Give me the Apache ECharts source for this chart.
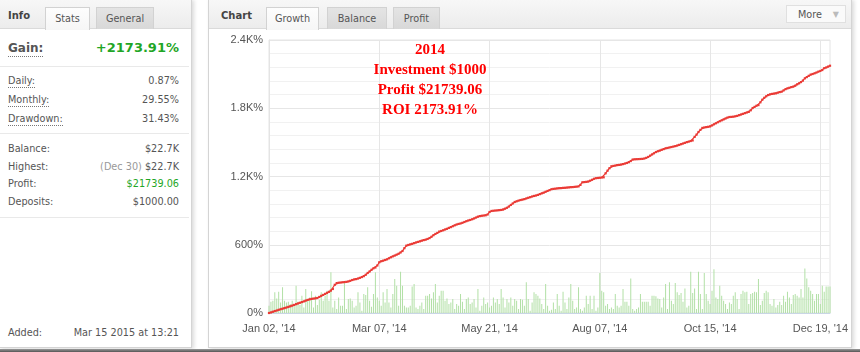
<!DOCTYPE html>
<html>
<head>
<meta charset="utf-8">
<script src="https://cdn.jsdelivr.net/npm/echarts@6/dist/echarts.min.js"></script>
<style>
  body { margin: 0; width: 860px; height: 352px; overflow: hidden; background: #fff; position: relative;
         font-family: "DejaVu Sans", Verdana, sans-serif; font-size: 9.7px; color: #555; }
  .panel { position: absolute; top: -1px; height: 349px; background: #fff; border: 1px solid #d4d4d4;
           box-sizing: border-box; box-shadow: 2px 1px 4px rgba(0,0,0,.15); }
  #info { left: -1px; width: 193px; }
  #chartBox { left: 208px; width: 644px; }
  .head { position: absolute; left: 0; top: 0; right: 0; height: 29px; background: linear-gradient(#f7f7f7, #ececec);
          border-bottom: 1px solid #dadada; box-sizing: border-box; }
  .head b { position: absolute; top: 10px; font-size: 10px; color: #444; }
  .tab { position: absolute; top: 7px; height: 22px; line-height: 21px; text-align: center; box-sizing: border-box;
         border: 1px solid #d2d2d2; border-bottom: none; color: #555; }
  .tab.on { background: linear-gradient(#fdfdfd, #f6f6f6); height: 23px; }
  .tab.off { background: linear-gradient(#e4e4e4, #d8d8d8); }
  .more { position: absolute; right: 5px; top: 5px; width: 60px; height: 18px; line-height: 17px; background: #fafafa;
          border: 1px solid #e0e0e0; box-sizing: border-box; color: #555; padding-left: 11px; }
  .more span { position: absolute; right: 6px; top: 0; color: #bbb; font-size: 8px; }
  .row { position: absolute; left: 8px; width: 171px; height: 14px; line-height: 14px; }
  .row .k { position: absolute; left: 0; top: 0; }
  .row .k.u { border-bottom: 1px dotted #777; line-height: 13px; }
  .row .v { position: absolute; right: 0; top: 0; color: #555; }
  .sep { position: absolute; left: 0; width: 189px; height: 1px; background: #e9e9e9; }
  .green { color: #1fa626 !important; }
  #chart { position: absolute; left: 209px; top: 29px; width: 642px; height: 320px; }
  #bottom { position: absolute; left: 0; top: 349px; width: 860px; height: 3px; background: linear-gradient(#9a9a9a, #555); }
</style>
</head>
<body>
<div id="info" class="panel">
  <div class="head">
    <b style="left:8px">Info</b>
    <div class="tab on" style="left:45px;width:45px">Stats</div>
    <div class="tab off" style="left:96px;width:58px">General</div>
  </div>
  <div class="row" style="top:40px;height:18px">
    <span class="k u" style="font-size:12px;font-weight:bold;line-height:16px;color:#555">Gain:</span>
    <span class="v green" style="font-size:13px;font-weight:bold;line-height:16px">+2173.91%</span>
  </div>
  <div class="sep" style="top:66px"></div>
  <div class="row" style="top:74px"><span class="k u">Daily:</span><span class="v">0.87%</span></div>
  <div class="row" style="top:93px"><span class="k u">Monthly:</span><span class="v">29.55%</span></div>
  <div class="row" style="top:112px"><span class="k u">Drawdown:</span><span class="v">31.43%</span></div>
  <div class="sep" style="top:133px"></div>
  <div class="row" style="top:142px"><span class="k">Balance:</span><span class="v">$22.7K</span></div>
  <div class="row" style="top:160px"><span class="k">Highest:</span><span class="v"><span style="color:#999">(Dec 30)</span> $22.7K</span></div>
  <div class="row" style="top:177px"><span class="k">Profit:</span><span class="v green">$21739.06</span></div>
  <div class="row" style="top:195px"><span class="k">Deposits:</span><span class="v">$1000.00</span></div>
  <div class="sep" style="top:217px"></div>
  <div class="row" style="top:326px"><span class="k">Added:</span><span class="v">Mar 15 2015 at 13:21</span></div>
</div>

<div id="chartBox" class="panel">
  <div class="head">
    <b style="left:12px">Chart</b>
    <div class="tab on" style="left:57px;width:53px">Growth</div>
    <div class="tab off" style="left:118px;width:60px">Balance</div>
    <div class="tab off" style="left:184px;width:47px">Profit</div>
    <div class="more">More<span>&#9660;</span></div>
  </div>
</div>
<div id="chart"></div>
<div id="bottom"></div>

<script>
// x tick labels, shown every 57 trading days
const xLabels = ["Jan 02, '14", "Mar 07, '14", "May 21, '14", "Aug 07, '14", "Oct 15, '14", "Dec 19, '14"];
const yLabels = ['0%', '600%', '1.2K%', '1.8K%', '2.4K%'];
const note = ['2014', 'Investment $1000', 'Profit $21739.06', 'ROI 2173.91%'];

// cumulative growth, %
const growth = [
  0, 5, 11, 17, 22, 28, 33, 38, 43, 48,
  54, 59, 65, 71, 78, 84, 90, 96, 102, 109,
  115, 120, 124, 127, 129, 132, 141, 151, 159, 168,
  177, 186, 197, 211, 248, 263, 266, 268, 270, 272,
  274, 277, 283, 290, 295, 298, 303, 309, 316, 324,
  336, 352, 365, 380, 393, 400, 418, 446, 455, 460,
  466, 472, 481, 490, 498, 505, 513, 521, 532, 545,
  570, 592, 598, 603, 608, 614, 620, 625, 630, 636,
  641, 645, 651, 659, 670, 684, 695, 704, 716, 721,
  727, 734, 740, 748, 755, 763, 771, 778, 783, 787,
  793, 800, 807, 813, 818, 824, 831, 839, 847, 852,
  855, 857, 859, 866, 888, 897, 899, 901, 902, 904,
  906, 909, 917, 925, 936, 950, 963, 976, 982, 988,
  993, 997, 1001, 1007, 1013, 1018, 1024, 1029, 1033, 1038,
  1045, 1052, 1058, 1066, 1073, 1080, 1088, 1091, 1093, 1095,
  1097, 1098, 1100, 1101, 1103, 1104, 1106, 1107, 1109, 1111,
  1113, 1126, 1149, 1151, 1153, 1155, 1163, 1171, 1180, 1185,
  1187, 1189, 1191, 1193, 1228, 1251, 1273, 1290, 1293, 1296,
  1300, 1302, 1305, 1309, 1314, 1319, 1326, 1336, 1349, 1351,
  1352, 1353, 1354, 1355, 1358, 1364, 1372, 1383, 1394, 1404,
  1415, 1422, 1428, 1435, 1441, 1448, 1451, 1455, 1459, 1463,
  1467, 1472, 1478, 1484, 1490, 1496, 1502, 1507, 1512, 1517,
  1548, 1568, 1591, 1610, 1627, 1631, 1634, 1637, 1640, 1649,
  1659, 1668, 1677, 1686, 1694, 1702, 1710, 1718, 1723, 1724,
  1726, 1729, 1733, 1739, 1745, 1751, 1757, 1763, 1768, 1782,
  1802, 1812, 1822, 1828, 1852, 1875, 1892, 1905, 1916, 1922,
  1926, 1929, 1931, 1937, 1942, 1946, 1957, 1968, 1975, 1980,
  1986, 1990, 1998, 2010, 2019, 2030, 2043, 2063, 2074, 2085,
  2096, 2101, 2107, 2114, 2122, 2128, 2136, 2152, 2158, 2166,
  2173.91
];

// daily gain, %
const daily = [
  0.48, 0.75, 0.81, 1.36, 0.96, 1.40, 0.70, 1.69, 0.81, 0.70,
  0.75, 0.59, 0.81, 0.48, 1.80, 0.75, 0.53, 1.14, 0.37, 1.58,
  0.81, 1.03, 1.43, 0.37, 1.14, 0.53, 0.88, 1.36, 0.81, 1.14,
  1.47, 0.81, 2.68, 0.37, 0.81, 0.26, 1.03, 0.48, 0.48, 2.02,
  0.26, 0.92, 0.96, 0.81, 0.37, 0.48, 1.36, 0.70, 0.15, 1.25,
  1.18, 1.69, 0.81, 0.42, 1.25, 2.68, 1.03, 0.81, 0.48, 1.36,
  0.70, 1.58, 0.70, 0.37, 1.25, 2.24, 1.80, 0.48, 2.72, 1.80,
  0.48, 0.37, 0.37, 0.48, 1.75, 1.91, 0.37, 0.26, 0.48, 0.70,
  0.26, 1.14, 1.14, 1.25, 0.96, 1.36, 1.91, 0.70, 1.14, 1.47,
  1.47, 0.81, 0.96, 0.59, 0.70, 0.92, 0.26, 0.59, 0.48, 1.25,
  0.75, 0.26, 0.92, 1.03, 0.59, 0.70, 0.92, 0.37, 1.58, 0.15,
  0.48, 1.03, 0.59, 0.70, 0.37, 0.48, 1.03, 0.70, 0.92, 0.59,
  1.58, 1.03, 0.37, 0.92, 0.70, 1.03, 0.48, 0.92, 0.81, 0.26,
  0.92, 0.88, 0.48, 2.02, 0.92, 0.15, 0.70, 1.36, 1.25, 1.14,
  0.96, 0.59, 0.26, 1.91, 0.48, 0.15, 0.22, 0.70, 0.26, 1.25,
  0.48, 0.15, 1.40, 0.70, 0.26, 1.03, 1.91, 0.81, 0.26, 0.37, 1.69,
  0.26, 0.15, 0.37, 1.14, 0.59, 1.14, 0.26, 1.14, 0.15, 0.37,
  2.63, 1.47, 1.36, 0.48, 0.59, 0.26, 0.37, 0.26, 1.25, 0.48, 0.37,
  0.48, 1.58, 0.75, 0.75, 0.48, 2.28, 0.26, 0.15, 0.26, 0.37,
  1.25, 0.75, 0.75, 0.75, 0.75, 0.48, 1.14, 1.14, 1.10, 0.96, 0.92,
  0.37, 1.03, 1.91, 0.26, 2.02, 0.81, 0.59, 1.97, 1.36, 1.18,
  1.32, 0.75, 1.62, 0.37, 0.48, 2.72, 1.32, 1.62, 0.26, 2.72, 1.25,
  0.26, 2.63, 1.25, 0.81, 0.59, 1.47, 2.89, 1.03, 0.92, 1.80,
  1.14, 0.81, 0.59, 0.26, 0.70, 0.59, 1.14, 1.36, 0.92, 0.26, 1.25,
  1.47, 1.36, 1.40, 0.59, 1.25, 1.32, 1.40, 1.36, 2.24, 0.53, 0.81,
  1.32, 1.47, 1.36, 0.59, 0.48, 0.92, 0.37, 0.53, 0.75, 0.53, 1.14,
  0.75, 1.40, 1.03, 0.59, 1.18, 1.25, 1.14, 1.03, 1.58, 1.03,
  2.94, 2.28, 1.69, 1.47, 1.25, 0.81, 1.25, 1.25, 0.59, 1.80, 1.40,
  1.75, 1.75, 1.75
];

const days = growth.map((v, i) => i);

const chart = echarts.init(document.getElementById('chart'));
chart.setOption({
  animation: false,
  grid: { left: 60, top: 11, width: 563, height: 273, show: true, borderColor: '#e4e4e4', borderWidth: 1 },
  graphic: [{
    type: 'text', x: 221, y: 11, z: 100,
    style: {
      text: note.join('\n'), fill: '#ff0000', font: 'bold 15px "Liberation Serif"',
      textAlign: 'center', textVerticalAlign: 'top', lineHeight: 20
    }
  }],
  xAxis: {
    type: 'category', data: days, boundaryGap: false,
    axisLine: { lineStyle: { color: '#c9d6e6' } },
    axisTick: { show: false },
    axisLabel: {
      interval: 56, margin: 10, color: '#555', fontSize: 11, fontFamily: 'Liberation Sans',
      formatter: (v, i) => xLabels[Math.round(i / 57)] || ''
    },
    splitLine: { show: true, interval: 56, lineStyle: { color: '#e6e6e6' } }
  },
  yAxis: [{
    type: 'value', min: 0, max: 2400, interval: 600,
    axisLine: { show: true, lineStyle: { color: '#e4e4e4' } },
    axisTick: { show: false },
    axisLabel: { margin: 6, color: '#555', fontSize: 11, fontFamily: 'Liberation Sans', formatter: v => yLabels[v / 600] },
    splitLine: { lineStyle: { color: '#e6e6e6' } },
    minorTick: { show: false, splitNumber: 5 },
    minorSplitLine: { show: true, lineStyle: { color: '#f1f1f1' } }
  }, {
    type: 'value', min: 0, max: 18, show: false
  }],
  series: [{
    type: 'bar', yAxisIndex: 1, data: daily, barWidth: 1, silent: true,
    itemStyle: { color: '#b2e0a6' }
  }, {
    type: 'line', data: growth, showAllSymbol: true, symbol: 'rect', symbolSize: 2.2,
    itemStyle: { color: '#ea3a35' }, lineStyle: { color: '#ea3a35', width: 1.2 }
  }]
});
</script>
</body>
</html>
